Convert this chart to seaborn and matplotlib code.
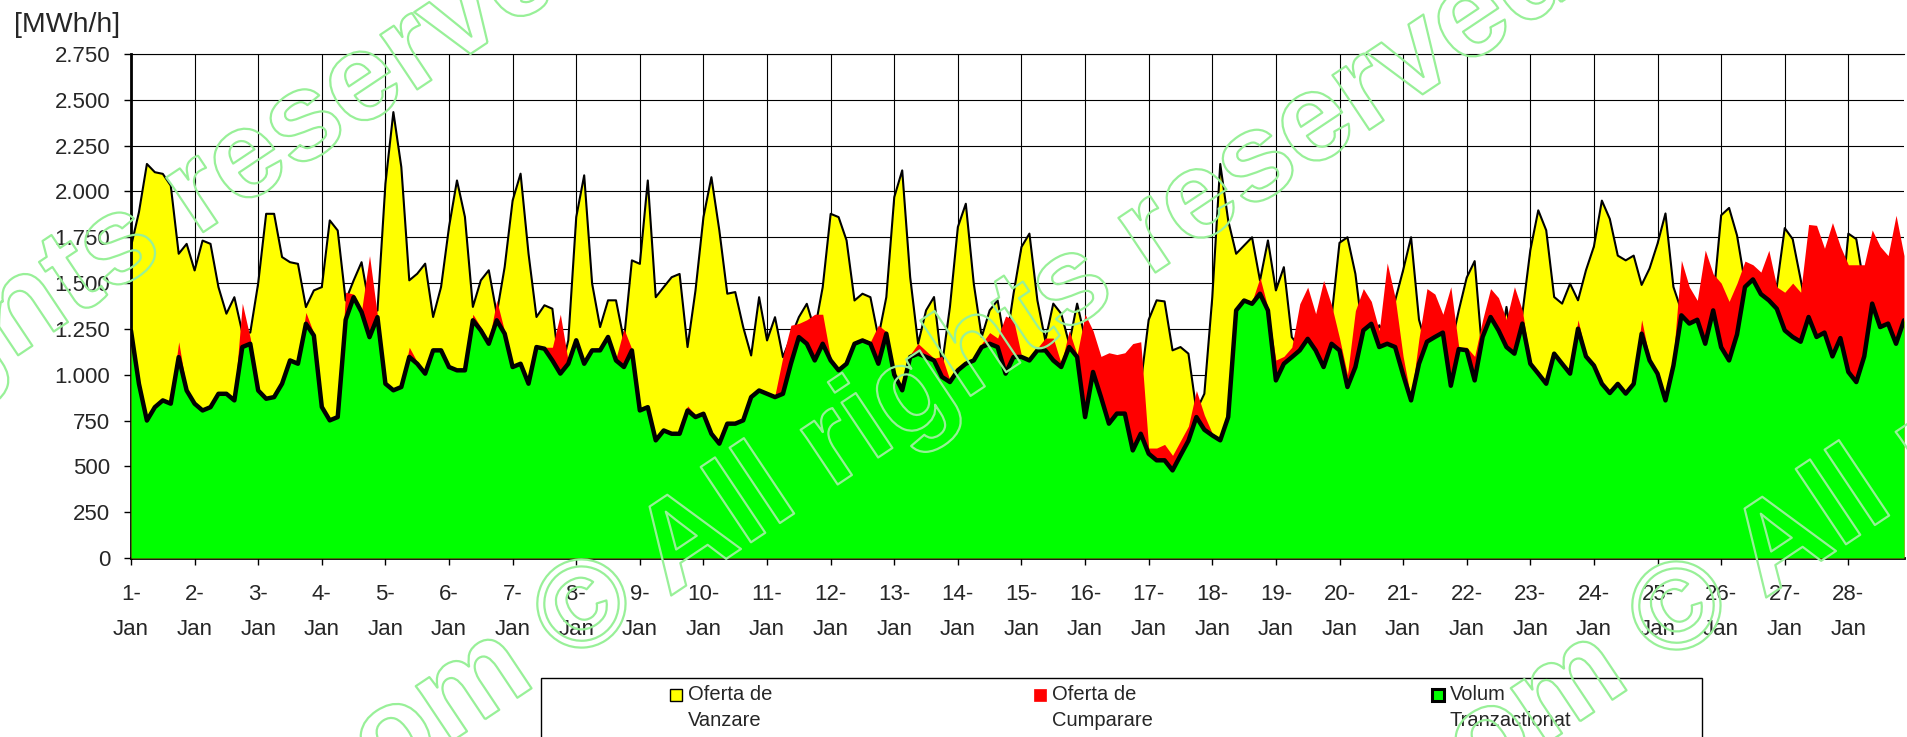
import numpy as np
import pandas as pd
import seaborn as sns
import matplotlib
matplotlib.use("Agg")
import matplotlib.pyplot as plt
from matplotlib.patches import Rectangle
from matplotlib import patheffects as pe

# valori la fiecare 3 ore, 1-28 ianuarie (8 valori pe zi)
vanzare = [
    1700, 1887, 2150, 2105, 2096, 2032, 1660, 1714,
    1569, 1732, 1714, 1478, 1333, 1423, 1230, 1230,
    1500, 1878, 1878, 1642, 1614, 1605, 1369, 1460,
    1478, 1842, 1787, 1405, 1514, 1614, 1369, 1350,
    2042, 2433, 2133, 1515, 1551, 1606, 1315, 1479,
    1806, 2060, 1861, 1370, 1515, 1570, 1333, 1588,
    1951, 2097, 1660, 1315, 1379, 1360, 1000, 1188,
    1860, 2088, 1497, 1260, 1406, 1406, 1188, 1624,
    1605, 2060, 1423, 1478, 1532, 1550, 1151, 1460,
    1860, 2078, 1787, 1442, 1451, 1260, 1105, 1423,
    1187, 1314, 1096, 1205, 1314, 1387, 1242, 1478,
    1878, 1860, 1733, 1405, 1442, 1423, 1205, 1423,
    1969, 2115, 1533, 1169, 1351, 1424, 1050, 1369,
    1806, 1933, 1497, 1206, 1351, 1406, 1151, 1442,
    1697, 1770, 1406, 1187, 1388, 1333, 1169, 1388,
    1200, 1000, 950, 950, 950, 950, 950, 950,
    1300, 1406, 1400, 1133, 1151, 1115, 805, 896,
    1423, 2150, 1842, 1660, 1705, 1750, 1514, 1733,
    1460, 1587, 1205, 1150, 1150, 1150, 1150, 1314,
    1720, 1750, 1550, 1200, 1150, 1270, 1200, 1405,
    1570, 1750, 1300, 1150, 1150, 1150, 1150, 1350,
    1530, 1620, 1100, 1000, 1100, 1370, 1100, 1333,
    1679, 1897, 1788, 1424, 1388, 1497, 1406, 1570,
    1700, 1950, 1850, 1650, 1624, 1650, 1490, 1580,
    1715, 1880, 1479, 1350, 1300, 1300, 1300, 1400,
    1870, 1910, 1760, 1500, 1300, 1300, 1300, 1480,
    1800, 1740, 1520, 1300, 1300, 1300, 1300, 1300,
    1770, 1740, 1480, 1300, 1300, 1300, 1300, 1300,
]

cumparare = [
    1260, 960, 760, 830, 870, 850, 1180, 920,
    850, 815, 830, 905, 905, 870, 1390, 1200,
    920, 880, 890, 960, 1090, 1070, 1340, 1225,
    830, 760, 780, 1450, 1440, 1350, 1650, 1320,
    960, 925, 940, 1150, 1070, 1015, 1140, 1140,
    1050, 1035, 1035, 1330, 1260, 1180, 1406, 1235,
    1050, 1070, 960, 1160, 1150, 1150, 1330, 1070,
    1195, 1070, 1140, 1150, 1215, 1090, 1250, 1140,
    815, 830, 650, 705, 690, 690, 830, 780,
    800, 690, 635, 745, 745, 765, 890, 925,
    905, 890, 1100, 1270, 1280, 1300, 1330, 1330,
    1090, 1035, 1070, 1180, 1200, 1180, 1270, 1235,
    1010, 925, 1110, 1170, 1130, 1090, 1100, 970,
    1035, 1070, 1080, 1170, 1230, 1200, 1320, 1300,
    1105, 1090, 1145, 1200, 1200, 1060, 1240, 1110,
    1330, 1240, 1100, 1120, 1110, 1120, 1170, 1180,
    600, 600, 620, 560, 640, 720, 914, 780,
    680, 655, 780, 1360, 1415, 1400, 1530, 1365,
    1080, 1100, 1150, 1387, 1478, 1333, 1514, 1380,
    1200, 1000, 1350, 1470, 1400, 1240, 1610, 1420,
    1100, 870, 1200, 1470, 1440, 1330, 1480, 1150,
    1150, 1100, 1300, 1470, 1420, 1300, 1480, 1350,
    1070, 1015, 960, 1125, 1070, 1015, 1300, 1110,
    1060, 960, 910, 960, 910, 960, 1300, 1090,
    1000, 870, 1100, 1624, 1479, 1406, 1680, 1550,
    1500, 1400, 1500, 1620, 1600, 1560, 1679, 1479,
    1450, 1500, 1450, 1820, 1815, 1690, 1830, 1700,
    1600, 1600, 1600, 1790, 1700, 1650, 1870, 1650,
]

volum = [
    1240, 950, 750, 823, 860, 842, 1096, 914,
    842, 805, 823, 896, 896, 860, 1151, 1169,
    914, 869, 878, 951, 1078, 1060, 1278, 1214,
    824, 751, 769, 1300, 1423, 1342, 1205, 1314,
    951, 915, 933, 1097, 1060, 1006, 1133, 1133,
    1042, 1024, 1024, 1297, 1242, 1169, 1297, 1224,
    1042, 1060, 951, 1151, 1142, 1078, 1006, 1060,
    1188, 1060, 1133, 1133, 1206, 1078, 1042, 1133,
    805, 823, 642, 696, 678, 678, 805, 769,
    787, 678, 624, 733, 733, 751, 878, 914,
    896, 878, 896, 1060, 1205, 1169, 1078, 1169,
    1078, 1024, 1060, 1169, 1187, 1169, 1060, 1224,
    1000, 915, 1097, 1115, 1097, 1078, 988, 960,
    1024, 1060, 1078, 1151, 1169, 1151, 1006, 1097,
    1097, 1078, 1133, 1133, 1078, 1042, 1151, 1097,
    769, 1015, 878, 733, 788, 788, 587, 678,
    569, 533, 533, 478, 560, 640, 769, 700,
    669, 642, 769, 1351, 1405, 1387, 1442, 1351,
    969, 1060, 1096, 1133, 1196, 1133, 1042, 1169,
    1133, 933, 1042, 1242, 1278, 1151, 1169, 1151,
    1000, 860, 1060, 1180, 1206, 1230, 940, 1140,
    1133, 969, 1206, 1315, 1242, 1151, 1115, 1279,
    1060, 1006, 951, 1115, 1060, 1006, 1251, 1100,
    1050, 951, 900, 950, 897, 950, 1224, 1078,
    1006, 860, 1050, 1324, 1279, 1300, 1169, 1351,
    1150, 1078, 1220, 1479, 1520, 1440, 1406, 1360,
    1242, 1206, 1180, 1315, 1206, 1230, 1100, 1200,
    1015, 960, 1100, 1388, 1260, 1279, 1169, 1297,
]

zile = [f"{d}-\nJan" for d in range(1, 29)]

sns.set_style("white")
plt.rcParams['font.family'] = ['Liberation Sans', 'DejaVu Sans']

df = pd.DataFrame({'ora': np.arange(len(volum)) * 3,
                   'vanzare': vanzare, 'cumparare': cumparare, 'volum': volum})

W, H = 1908, 737
fig = plt.figure(figsize=(W / 100, H / 100), dpi=100)
ax = fig.add_axes([131 / W, (H - 558) / H, (1904 - 131) / W, (558 - 54) / H])

ax.fill_between(df.ora, 0, df.vanzare, color='#FFFF00', lw=0, zorder=2)
sns.lineplot(data=df, x='ora', y='vanzare', color='black', lw=1.5, ax=ax, zorder=2.1)
ax.fill_between(df.ora, 0, df.cumparare, color='#FF0000', lw=0, zorder=3)
ax.fill_between(df.ora, 0, df.volum, color='#00FF00', lw=0, zorder=4)
sns.lineplot(data=df, x='ora', y='volum', color='black', lw=3.2, ax=ax, zorder=4.1)

ax.set_xlim(0, df.ora.iloc[-1])
ax.set_ylim(0, 2750)
ax.set_xticks(np.arange(28) * 24)
ax.set_xticklabels(zile, fontsize=16, linespacing=1.85)
yt = list(range(0, 2751, 250))
ax.set_yticks(yt)
ax.set_yticklabels([f"{v:,}".replace(",", ".") for v in yt], fontsize=16)
ax.set_xlabel('')
ax.set_ylabel('')
ax.tick_params(axis='x', direction='out', length=5, width=1, color='black', pad=14, bottom=True)
ax.tick_params(axis='y', direction='out', length=5, width=1, color='black', pad=10, left=True)
ax.grid(True, color='black', lw=0.8)
ax.set_axisbelow(True)
for s in ['left', 'bottom']:
    ax.spines[s].set_color('black')
    ax.spines[s].set_linewidth(2)
ax.spines['top'].set_color('black')
ax.spines['top'].set_linewidth(0.8)
ax.spines['right'].set_visible(False)

fig.text(14 / W, (H - 25) / H, '[MWh/h]', fontsize=20.5, va='center', ha='left')

# legenda
fig.add_artist(Rectangle((541 / W, -10 / H), 1161 / W, 69 / H, transform=fig.transFigure,
                         fill=False, edgecolor='black', lw=1))
leg = [('Oferta de', 'Vanzare', '#FFFF00', 'black', 1.0, 676),
       ('Oferta de', 'Cumparare', '#FF0000', '#FF0000', 0.5, 1040),
       ('Volum', 'Tranzactionat', '#00FF00', 'black', 2.2, 1438)]
for l1, l2, fc, ec, lw, xc in leg:
    fig.add_artist(Rectangle(((xc - 6) / W, 36 / H), 12 / W, 12 / H, transform=fig.transFigure,
                             facecolor=fc, edgecolor=ec, lw=lw))
    fig.text((xc + 12) / W, 42 / H, l1, fontsize=14.5, va='center', ha='left')
    fig.text((xc + 12) / W, 17 / H, l2, fontsize=14.5, va='center', ha='left')

# watermark
wm = dict(fontsize=90, fontweight='bold', rotation=33.7, rotation_mode='anchor',
          color='none', va='baseline', zorder=10,
          path_effects=[pe.withStroke(linewidth=1.6, foreground='#98F098')])
fig.text(567 / W, 72 / H, '© All rights reserved', ha='left', **wm)
fig.text(538 / W, 53 / H, 'opcom', ha='right', **wm)
fig.text(1662 / W, 70 / H, '© All rights reserved', ha='left', **wm)
fig.text(1633 / W, 51 / H, 'opcom', ha='right', **wm)
fig.text(196 / W, 500 / H, 'reserved', ha='left', **wm)
fig.text(167 / W, 481 / H, '© All rights', ha='right', **wm)

fig.savefig('out.png', dpi=100)
